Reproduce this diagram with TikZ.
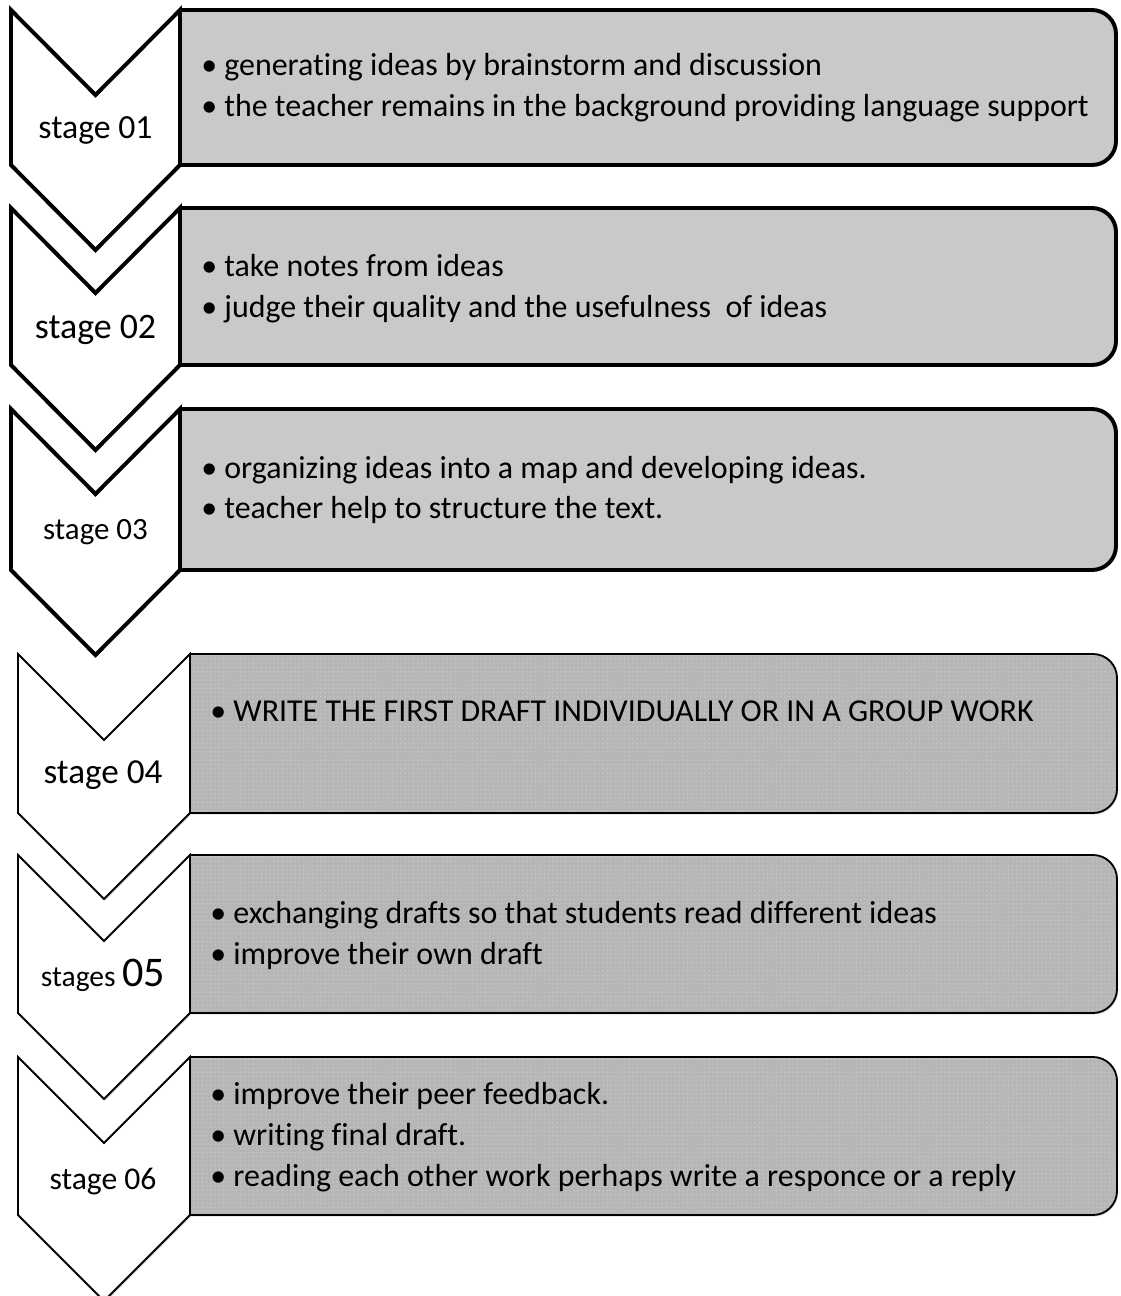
\documentclass[tikz,border=0pt]{standalone}
\usepackage{fontspec}
\setmainfont{Carlito}[Ligatures={NoCommon}]
\usetikzlibrary{patterns, shadows}

\newcommand{\boxfont}{\fontsize{22.7}{29}\selectfont}

\begin{document}
\begin{tikzpicture}[x=0.025cm, y=-0.025cm, line join=miter]
            \tikzset{textbox/.style={preaction={fill=black!21}, pattern=dots, pattern color=white!80!black, rounded corners=0.6cm},
                     heavy/.style={line width=2.8pt},
                     light/.style={line width=1.3pt},
                     softshadow/.style={drop shadow={opacity=0.25, shadow xshift=0.8pt, shadow yshift=-1.2pt}},
                     chevron/.style={fill=white},
                     boxtext/.style={anchor=west, align=left, inner sep=0pt, font=\boxfont}};
            \useasboundingbox (0,0) rectangle (1120,1296);
            % First three stages
            \foreach \t/\b in {10/165, 208/365, 409/570}{
                \draw[textbox, heavy] (180,\t) -- (1116,\t) -- (1116,\b) -- (180,\b);
                \draw[chevron, heavy] (11,\t) -- (95.5,\t+85) -- (180,\t) -- (180,\b) -- (95.5,\b+85) -- (11,\b) -- cycle;
            }
            % Last three stages
            \foreach \t/\b in {654/813, 855/1013, 1057/1215}{
                \draw[textbox, light, softshadow] (190,\t) -- (1117,\t) -- (1117,\b) -- (190,\b);
                \draw[chevron, light, softshadow] (18,\t) -- (104,\t+86) -- (190,\t) -- (190,\b) -- (104,\b+86) -- (18,\b) -- cycle;
            }
            % Stage labels
            \node (lab1) at (95.5,130) {\fontsize{24}{28}\selectfont stage 01};
            \node (lab2) at (95.5,330) {\fontsize{25.5}{30}\selectfont stage 02};
            \node (lab3) at (95.5,532) {\fontsize{22}{26}\selectfont stage 03};
            \node (lab4) at (103,775) {\fontsize{25}{30}\selectfont stage 04};
            \node (lab5) at (103,975) {\fontsize{21}{26}\selectfont stages \fontsize{30}{34}\selectfont 05};
            \node (lab6) at (103,1182) {\fontsize{22.5}{26}\selectfont stage 06};
            % Box texts
            \node[boxtext] (txt1) at (201,88) {• generating ideas by brainstorm and discussion\\
                • the teacher remains in the background providing language support};
            \node[boxtext] (txt2) at (201,289) {• take notes from ideas\\
                • judge their quality and the usefulness\ \ of ideas};
            \node[boxtext] (txt3) at (201,490) {• organizing ideas into a map and developing ideas.\\
                • teacher help to structure the text.};
            \node[boxtext] (txt4) at (210,711) {• WRITE THE FIRST DRAFT INDIVIDUALLY OR IN A GROUP WORK};
            \node[boxtext] (txt5) at (210,935.5) {• exchanging drafts so that students read different ideas\\
                • improve their own draft};
            \node[boxtext] (txt6) at (210,1137) {• improve their peer feedback.\\
                • writing final draft.\\
                • reading each other work perhaps write a responce or a reply};
\end{tikzpicture}
\end{document}
